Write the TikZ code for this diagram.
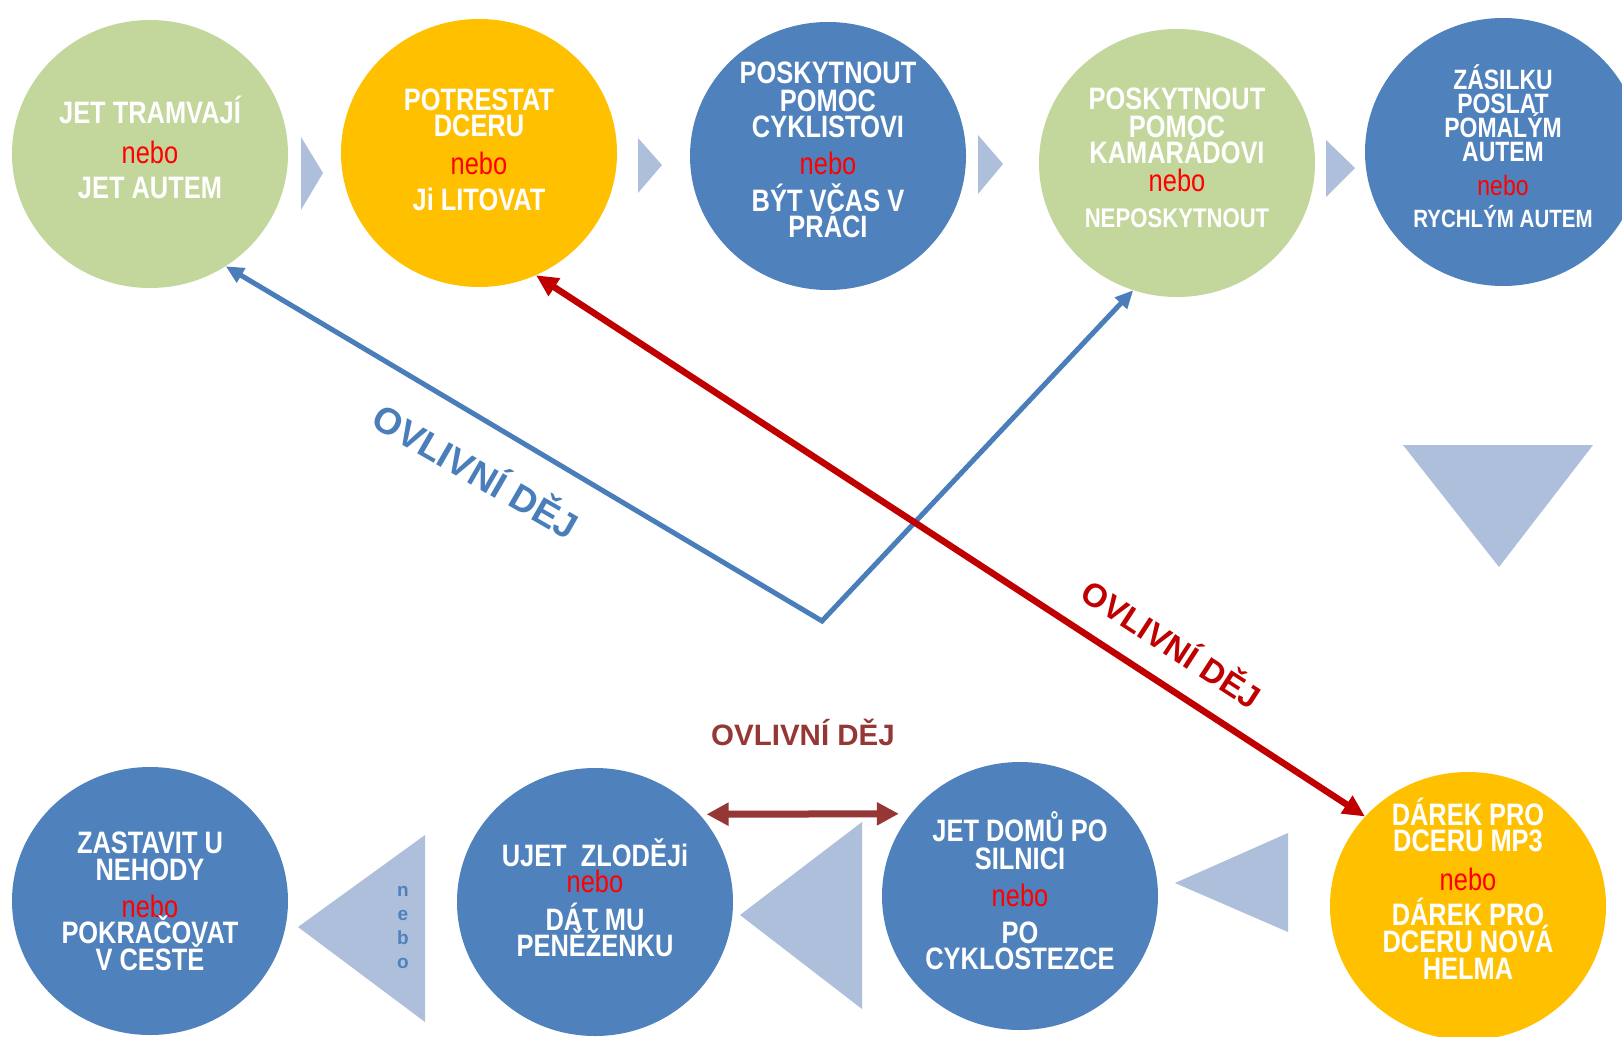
\documentclass[tikz,border=0pt]{standalone}
\usepackage{fontspec}
\setmainfont{Liberation Sans}
\newfontfamily\narrowfont[FakeStretch=0.82]{Liberation Sans}
\usetikzlibrary{shapes.geometric,arrows.meta}
\definecolor{bubblue}{HTML}{4F81BD}
\definecolor{bubgreen}{HTML}{C3D69B}
\definecolor{bubyellow}{HTML}{FFC000}
\definecolor{chevron}{HTML}{AEBFDC}
\definecolor{linkblue}{HTML}{4A7EBB}
\definecolor{linkred}{HTML}{C00000}
\definecolor{linkbrown}{HTML}{953735}
\definecolor{nebored}{HTML}{FF0000}
\newcommand{\nebo}{{\mdseries\color{nebored}nebo}}
\newcommand{\tightlines}{\setlength{\lineskiplimit}{-100pt}}
\tikzset{
  bubble/.style={
    ellipse,
    fill=#1,
    minimum width=276pt,
    minimum height=268pt,
    inner sep=0pt,
    text=white,
    text depth=0pt,
    align=center,
    font=\narrowfont\bfseries\fontsize{31}{26}\selectfont\tightlines
  },
  chev/.style={fill=chevron},
  link/.style={draw=#1, line cap=butt, line join=miter},
  tag/.style={font=\bfseries\fontsize{#1}{#1}\selectfont}
}

\begin{document}
\begin{tikzpicture}[x=1pt,y=-1pt]
  \path[fill=white, use as bounding box] (0,0) rectangle (1622,1036);

  % upper row
  \node[bubble=bubgreen, text height=88pt] (E1) at (150,154) {JET TRAMVAJÍ\\[14pt]\nebo\\[9pt]JET AUTEM};
  \node[bubble=bubyellow, text height=114pt] (E2) at (479,153) {POTRESTAT\\DCERU\\[12pt]\nebo\\[10pt]Ji LITOVAT};
  \node[bubble=bubblue, text height=162pt] (E3) at (828,156) {POSKYTNOUT\\[2pt]POMOC\\CYKLISTOVI\\[11pt]\nebo\\[11pt]BÝT VČAS V\\PRÁCI};
  \node[bubble=bubgreen, text height=129pt] (E4) at (1177,163) {POSKYTNOUT\\[2pt]POMOC\\KAMARÁDOVI\\[2pt]\nebo\\[10pt]{\fontsize{27}{26}\selectfont NEPOSKYTNOUT}};
  \node[bubble=bubblue, text height=150pt, font=\narrowfont\bfseries\fontsize{28}{24}\selectfont\tightlines] (E5) at (1503,152)
    {ZÁSILKU\\POSLAT\\POMALÝM\\AUTEM\\[10pt]\nebo\\[8pt]{\fontsize{25}{24}\selectfont RYCHLÝM AUTEM}};

  \fill[chev] (301,137) -- (323,173) -- (301,210) -- cycle;
  \fill[chev] (638,138) -- (662,165) -- (638,193) -- cycle;
  \fill[chev] (978,135) -- (1003,164) -- (978,194) -- cycle;
  \fill[chev] (1326,140) -- (1355,168) -- (1326,197) -- cycle;
  \fill[chev] (1403,445) -- (1593,445) -- (1499,567) -- cycle;

  % lower row
  \node[bubble=bubblue, text height=138pt] (B1) at (150,901) {ZASTAVIT U\\[1pt]NEHODY\\[11pt]\nebo\\POKRAČOVAT\\[1pt]V CESTĚ};
  \node[bubble=bubblue, text height=108pt] (B2) at (595,902) {UJET\ \ ZLODĚJi\\\nebo\\[12pt]DÁT MU\\PENĚŽENKU};
  \node[bubble=bubblue, text height=146pt] (B3) at (1020,896) {JET DOMŮ PO\\[2pt]SILNICI\\[11pt]\nebo\\[11pt]PO\\CYKLOSTEZCE};
  \node[bubble=bubyellow, text height=146pt] (B4) at (1468,906) {DÁREK PRO\\DCERU MP3\\[13pt]\nebo\\[9pt]DÁREK PRO\\[1pt]DCERU NOVÁ\\[1pt]HELMA};

  \fill[chev] (425,835) -- (298,927) -- (425,1022) -- cycle;
  \fill[chev] (862,822) -- (740,915) -- (862,1009) -- cycle;
  \fill[chev] (1288,833) -- (1175,883) -- (1288,932) -- cycle;
  \node[font=\bfseries\fontsize{19}{24}\selectfont, text=bubblue, align=center] (nebov) at (403,927) {n\\e\\b\\o};

  % links
  \coordinate (V) at (822,621);
  \draw[link=linkblue, line width=5pt, {Triangle[length=18pt,width=16pt]}-{Triangle[length=18pt,width=16pt]}]
    (E1.-56) -- (V) -- (E4.-109);
  \draw[link=linkred, line width=6.5pt, {Triangle[length=22pt,width=20pt]}-{Triangle[length=22pt,width=20pt]}]
    (E2.-65) -- (B4.139);
  \draw[link=linkbrown, line width=7pt, shorten <=7pt, shorten >=12pt,
    {Triangle[length=22pt,width=22pt]}-{Triangle[length=22pt,width=22pt]}] (B2.40) -- (B3.143);

  \node[tag=37, text=linkblue, rotate=-30] (lblblue) at (477,469) {OVLIVNÍ DĚJ};
  \node[tag=33, text=linkred, rotate=-33] (lblred) at (1173,642) {OVLIVNÍ DĚJ};
  \node[tag=29.5, text=linkbrown] (lblbrown) at (803,732) {OVLIVNÍ DĚJ};
\end{tikzpicture}
\end{document}
